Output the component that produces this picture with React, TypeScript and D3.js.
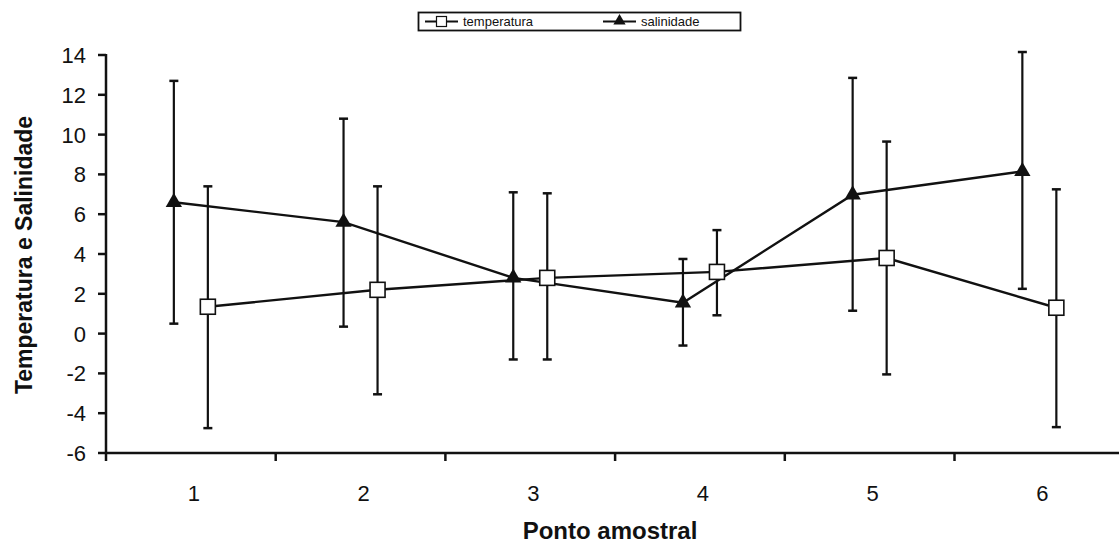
import React from "react";
import * as d3 from "d3";

const categories = ["1", "2", "3", "4", "5", "6"];
const tempMean = [1.35, 2.2, 2.8, 3.1, 3.8, 1.3];
const tempHigh = [7.4, 7.4, 7.05, 5.2, 9.65, 7.25];
const tempLow = [-4.75, -3.05, -1.3, 0.92, -2.05, -4.7];
const salMean = [6.6, 5.6, 2.8, 1.55, 6.98, 8.15];
const salHigh = [12.7, 10.8, 7.1, 3.75, 12.85, 14.15];
const salLow = [0.5, 0.35, -1.3, -0.6, 1.15, 2.25];
const yTicks = [-6, -4, -2, 0, 2, 4, 6, 8, 10, 12, 14];

const W = 1119;
const H = 545;
const FONT = "'Liberation Sans', Arial, sans-serif";
const INK = "#111";

export default function App() {
  const x = d3.scaleBand<string>().domain(categories).range([106, 106 + 6 * 169.7]).padding(0);
  const y = d3.scaleLinear().domain([-6, 14]).range([453, 55]);
  const cx = (c: string) => (x(c) as number) + x.bandwidth() / 2;
  const off = 17;

  const tempPts = categories.map((c, i) => ({ x: cx(c) + off, m: tempMean[i], hi: tempHigh[i], lo: tempLow[i] }));
  const salPts = categories.map((c, i) => ({ x: cx(c) - off, m: salMean[i], hi: salHigh[i], lo: salLow[i] }));
  const line = d3.line<{ x: number; m: number }>().x((d) => d.x).y((d) => y(d.m));
  const tri = d3.symbol().type(d3.symbolTriangle).size(115)();

  const errBars = (pts: { x: number; hi: number; lo: number }[], key: string) =>
    pts.map((p, i) => (
      <g key={key + i} stroke={INK} strokeWidth={2.2}>
        <line x1={p.x} x2={p.x} y1={y(p.hi)} y2={y(p.lo)} />
        <line x1={p.x - 4.5} x2={p.x + 4.5} y1={y(p.hi)} y2={y(p.hi)} strokeWidth={2.5} />
        <line x1={p.x - 4.5} x2={p.x + 4.5} y1={y(p.lo)} y2={y(p.lo)} strokeWidth={2.5} />
      </g>
    ));

  const xTickPos = categories.map((c) => x(c) as number).concat([(x(categories[5]) as number) + x.bandwidth()]);

  return (
    <svg width={W} height={H} style={{ position: "absolute", left: 0, top: 0, background: "#fff" }} fontFamily={FONT}>
      <rect width={W} height={H} fill="#fff" />
      {/* legend */}
      <g>
        <rect x={418.5} y={12.5} width={322} height={18} fill="#fff" stroke={INK} strokeWidth={1.8} />
        <line x1={425} x2={458} y1={21.5} y2={21.5} stroke={INK} strokeWidth={2.2} />
        <rect x={436.5} y={16.5} width={10} height={10} fill="#fff" stroke={INK} strokeWidth={1.2} />
        <text x={463} y={26} fontSize={13} fill={INK}>temperatura</text>
        <line x1={603} x2={636} y1={21.5} y2={21.5} stroke={INK} strokeWidth={2.2} />
        <path d={d3.symbol().type(d3.symbolTriangle).size(65)() as string} transform="translate(619.5,21)" fill={INK} />
        <text x={641} y={26} fontSize={13} fill={INK}>salinidade</text>
      </g>

      {/* y axis */}
      <line x1={106} x2={106} y1={y(14) - 1} y2={y(-6)} stroke={INK} strokeWidth={2.5} />
      {yTicks.map((t) => (
        <g key={"yt" + t}>
          <line x1={98} x2={106} y1={y(t)} y2={y(t)} stroke={INK} strokeWidth={2.5} />
          <text x={86} y={y(t) + 8} textAnchor="end" fontSize={22} fill={INK}>{t}</text>
        </g>
      ))}
      {/* x axis */}
      <line x1={105} x2={W} y1={y(-6)} y2={y(-6)} stroke={INK} strokeWidth={2.5} />
      {xTickPos.map((p, i) => (
        <line key={"xt" + i} x1={p} x2={p} y1={y(-6)} y2={y(-6) + 8} stroke={INK} strokeWidth={2.5} />
      ))}
      {categories.map((c) => (
        <text key={"xl" + c} x={cx(c) + 3} y={501} textAnchor="middle" fontSize={22} fill={INK}>{c}</text>
      ))}

      <text x={610} y={539} textAnchor="middle" fontSize={24} fontWeight="bold" fill={INK}>Ponto amostral</text>
      <text transform="translate(32,255) rotate(-90)" textAnchor="middle" fontSize={23} fontWeight="bold" fill={INK}>
        Temperatura e Salinidade
      </text>

      {errBars(salPts, "s")}
      {errBars(tempPts, "t")}

      <path d={line(salPts) as string} fill="none" stroke={INK} strokeWidth={2.4} />
      <path d={line(tempPts) as string} fill="none" stroke={INK} strokeWidth={2.4} />

      {salPts.map((p, i) => (
        <path key={"sm" + i} d={tri as string} transform={`translate(${p.x},${y(p.m)})`} fill={INK} />
      ))}
      {tempPts.map((p, i) => (
        <rect key={"tm" + i} x={p.x - 7.5} y={y(p.m) - 7.5} width={15} height={15} fill="#fff" stroke={INK} strokeWidth={1.6} />
      ))}
    </svg>
  );
}
